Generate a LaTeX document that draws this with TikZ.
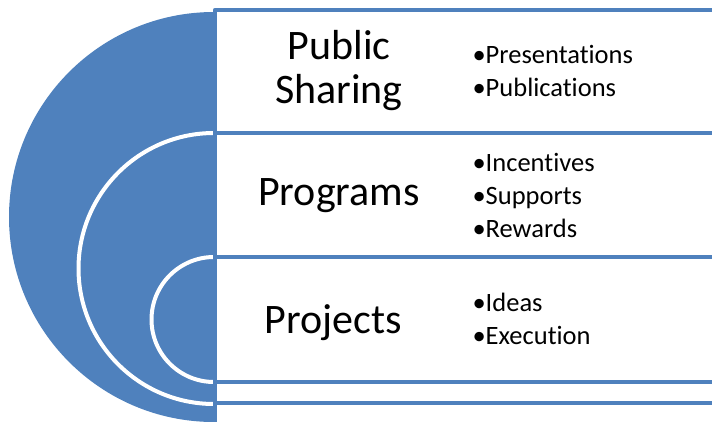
\documentclass[tikz,border=0pt]{standalone}
\usepackage{fontspec}
\setmainfont[Ligatures=NoCommon]{Carlito}
\definecolor{ringblue}{HTML}{4F81BD}

\begin{document}
\begin{tikzpicture}[x=1pt, y=-1pt, line join=round,
	band/.style={draw=ringblue, line width=4.5pt, fill=white},
	ring/.style={draw=white, line width=4pt},
	title/.style={font=\fontsize{42}{44}\selectfont, align=center, anchor=base},
	item/.style={font=\fontsize{26.5}{33}\selectfont, align=left, anchor=base west}]
	
	\useasboundingbox (0,0) rectangle (712,421);
	
	%========================
	% Left: nested target
	%========================
	\fill[ringblue] (214,12) arc[start angle=270, end angle=90, radius=205] -- cycle;
	% inner rings
	\draw[ring] (214,133) arc[start angle=270, end angle=90, radius=135.5];
	\draw[ring] (214,257) arc[start angle=270, end angle=90, radius=62.5];
	
	%========================
	% Right: bands
	%========================
	\foreach \top/\bot in {10/133, 133/257, 257/382, 382/403, 403/445}
	\draw[band] (215,\top) rectangle (740,\bot);
	
	% level names (base = last line)
	\node[title] (share) at (339,103) {Public\\Sharing};
	\node[title] (programs) at (339,205) {Programs};
	\node[title] (projects) at (333,333) {Projects};
	
	% bullet lists
	\node[item] (shareitems) at (469,96) {•Presentations\\•Publications};
	\node[item] (programitems) at (469,237) {•Incentives\\•Supports\\•Rewards};
	\node[item] (projectitems) at (469,344) {•Ideas\\•Execution};
	
\end{tikzpicture}
\end{document}
